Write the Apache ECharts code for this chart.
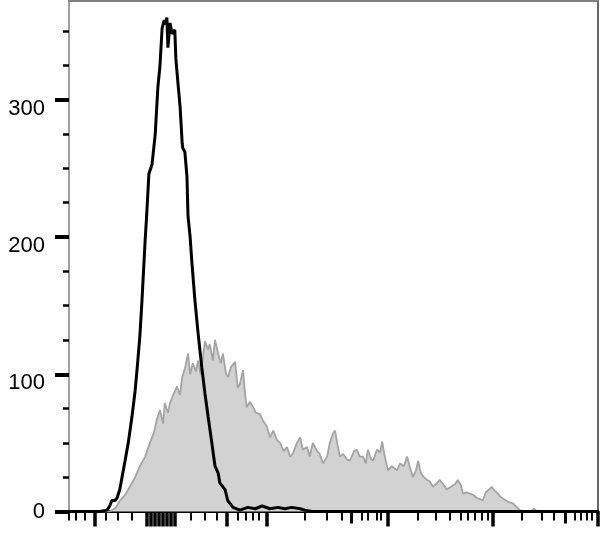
<!DOCTYPE html>
<html>
<head>
<meta charset="utf-8">
<script src="https://cdn.jsdelivr.net/npm/echarts@6/dist/echarts.min.js"></script>
<style>
html,body{margin:0;padding:0;background:#fff;}
#c{width:608px;height:545px;}
</style>
</head>
<body>
<div id="c"></div>
<script>
// Display channel scale (0–1000) of the biexponential fluorescence axis
var isotypeCh = [0,58,72,77,81,87,91,96,106,112,119,125,129,134,138,144,147,151,157,163,168,172,176,180,183,185,187,191,195,200,202,206,210,214,215,219,223,225,229,232,238,244,251,257,263,270,276,282,285,295,300,310,323,338,352,365,380,395,408,421,437,446,459,1000];
var isotypeCount = [0,0,1,4,8,8,10,16,37,50,69,88,105,128,154,198,217,246,253,275,309,325,352,358,355,360,338,356,348,351,330,312,295,268,265,262,244,215,200,183,154,130,105,86,69,50,33,28,21,16,8,3,1,3,2,4,2,3,2,3,2,1,0,0];

var stainedCh = [0,77,89,96,106,115,125,134,144,153,161,166,172,178,181,187,191,197,204,210,214,219,225,229,234,240,244,249,257,263,266,272,276,282,287,291,297,301,306,314,319,323,329,333,336,342,348,353,361,367,374,380,386,393,399,406,412,418,423,431,437,442,450,455,461,469,474,480,488,493,499,503,508,512,518,525,531,539,544,550,556,561,565,571,575,582,588,592,597,603,610,620,626,633,639,644,650,656,660,665,671,677,682,688,694,701,709,714,722,730,735,741,745,752,758,764,771,777,782,788,794,799,805,811,815,822,830,839,847,852,858,873,879,885,1000];
var stainedCount = [0,0,3,8,12,18,25,33,40,50,58,67,74,64,79,72,79,85,91,85,98,104,115,100,108,102,110,100,124,118,122,110,125,115,108,115,100,98,105,109,90,93,103,85,76,80,76,72,71,66,62,54,59,52,50,44,47,40,42,50,54,45,47,40,50,44,42,35,40,50,57,59,48,40,42,38,37,44,45,40,40,35,45,38,37,45,43,51,40,30,33,30,35,33,40,33,25,30,37,28,25,23,22,18,20,23,19,16,18,20,23,19,13,14,13,12,10,9,8,14,16,18,15,13,11,9,7,6,3,1,0,0,2,0,0];

var yMajorTicks = [0,100,200,300];
var yUpperLabels = [100,200,300];
var yZeroLabel = [0];
var yMinorTicks = [25,50,75,125,150,175,225,250,275,325,350];
var xMajorTicks = [49,147,155,163,170,178,185,193,200,299,374,603,801,1000];
var xMediumTicks = [533,938];
var xMinorTicks = [0,13,30,70,93,119,231,257,280,319,335,348,359,446,488,516,554,565,582,590,660,694,720,741,754,767,781,792,856,894,917,956,968,979,989];

function pairs(xs, ys){ return xs.map(function(x,i){ return [x, ys[i]]; }); }

var chart = echarts.init(document.getElementById('c'), null, {renderer:'canvas'});
var X0 = 0, X1 = 1000, Y0 = 0, Y1 = 372;
var labelFont = {margin:24, fontSize:22, fontFamily:'Liberation Sans, Arial, sans-serif', color:'#000'};
function xa(extra){
  var base = {type:'value', min:X0, max:X1, position:'bottom', splitLine:{show:false},
    axisLabel:{show:false}, axisLine:{show:false}, axisTick:{show:false}};
  return Object.assign(base, extra);
}
function ya(extra){
  var base = {type:'value', min:Y0, max:Y1, position:'left', splitLine:{show:false},
    axisLabel:{show:false}, axisLine:{show:false}, axisTick:{show:false}};
  return Object.assign(base, extra);
}
chart.setOption({
  animation:false,
  backgroundColor:'#ffffff',
  grid:{left:69, right:10, top:1, bottom:33.5, containLabel:false,
    show:true, borderColor:'#333', borderWidth:1.5, backgroundColor:'transparent'},
  xAxis:[
    xa({axisLine:{show:true, lineStyle:{color:'#000', width:3}},
        axisTick:{show:true, customValues:xMajorTicks, length:15, lineStyle:{color:'#000', width:3.5}}}),
    xa({axisTick:{show:true, customValues:xMediumTicks, length:12, lineStyle:{color:'#000', width:3}}}),
    xa({axisTick:{show:true, customValues:xMinorTicks, length:9, lineStyle:{color:'#000', width:2}}}),
    xa({position:'top', axisLine:{show:true, lineStyle:{color:'#808080', width:2}}})
  ],
  yAxis:[
    ya({interval:100,
        axisLine:{show:true, lineStyle:{color:'#a0a0a0', width:2}},
        axisTick:{show:true, customValues:yMajorTicks, length:14, lineStyle:{color:'#000', width:4}},
        axisLabel:Object.assign({show:true, customValues:yUpperLabels, verticalAlign:'top', lineHeight:18}, labelFont)}),
    ya({axisTick:{show:true, customValues:yMinorTicks, length:6, lineStyle:{color:'#000', width:2.5}},
        axisLabel:Object.assign({show:true, customValues:yZeroLabel, verticalAlign:'middle', lineHeight:22}, labelFont)})
  ],
  series:[
    {type:'line', name:'stained', data:pairs(stainedCh, stainedCount), xAxisIndex:0, yAxisIndex:0,
      showSymbol:false, symbol:'none', smooth:false,
      lineStyle:{color:'#a4a4a4', width:1.8}, areaStyle:{color:'#d2d2d2', opacity:1}, z:2},
    {type:'line', name:'isotype', data:pairs(isotypeCh, isotypeCount), xAxisIndex:0, yAxisIndex:0,
      showSymbol:false, symbol:'none', smooth:false,
      lineStyle:{color:'#000', width:3}, z:3}
  ]
});
</script>
</body>
</html>
